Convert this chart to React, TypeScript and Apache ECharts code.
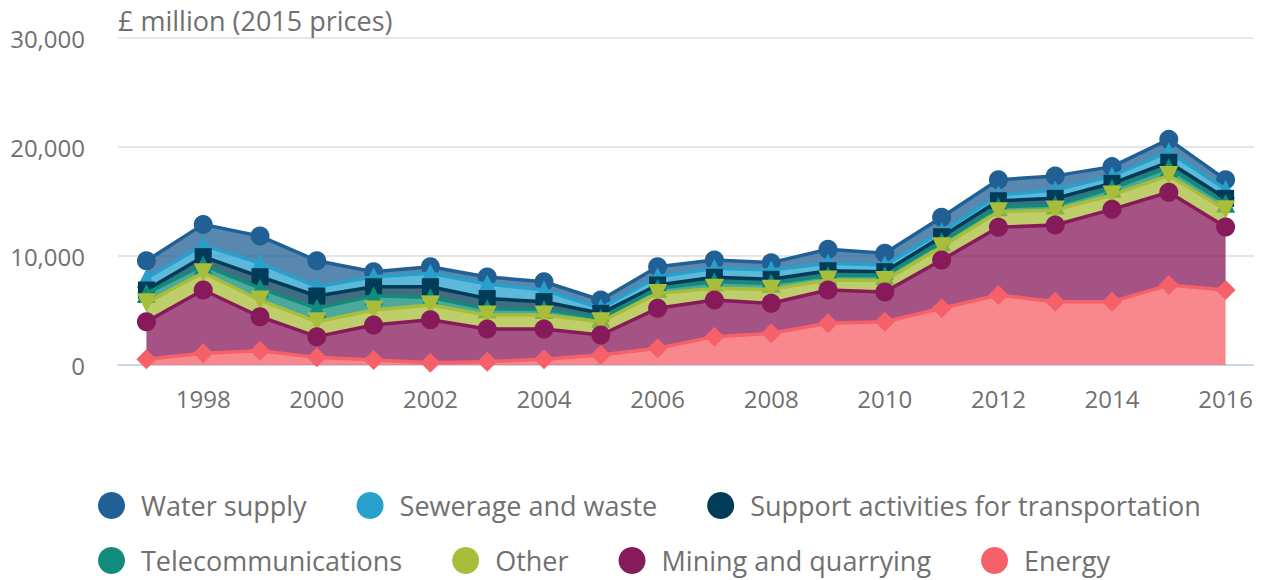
import React, { useEffect, useRef } from "react";
import * as echarts from "echarts";

const years = ["1997","1998","1999","2000","2001","2002","2003","2004","2005","2006","2007","2008","2009","2010","2011","2012","2013","2014","2015","2016"];

const energy = [520,1070,1310,700,460,210,300,520,920,1530,2600,2910,3830,3970,5200,6420,5810,5810,7340,6880];
const mining = [3450,5810,3120,1900,3210,3940,3000,2780,1830,3670,3360,2750,3050,2730,4430,6210,7030,8470,8510,5780];
const other = [1750,1590,1530,1370,1380,1350,1290,1290,1220,1370,1070,1280,920,1050,1220,1430,1380,1320,1530,1590];
const telecom = [850,700,1070,1230,1300,700,560,510,310,460,610,550,400,450,460,460,460,610,720,580];
const transport = [310,770,1070,1130,830,980,950,710,460,310,410,370,450,360,460,550,610,460,500,460];
const sewerage = [1070,1060,1230,850,920,1230,1320,1070,460,760,820,860,680,610,460,530,770,670,970,840];
const water = [1610,1900,2500,2390,460,600,660,760,760,920,760,670,1290,1080,1320,1400,1290,860,1130,870];

const yTicks = [0, 10000, 20000, 30000];
const titleText = "£ million (2015 prices)";

const FONT = "'Open Sans', sans-serif";
const GREY = "#707070";

type S = { name: string; data: number[]; color: string; symbol: string; rotate?: number; size: number };

const seriesDefs: S[] = [
  { name: "Energy", data: energy, color: "#f66068", symbol: "diamond", size: 20 },
  { name: "Mining and quarrying", data: mining, color: "#871a5b", symbol: "circle", size: 19 },
  { name: "Other", data: other, color: "#a8bd3a", symbol: "triangle", rotate: 180, size: 19 },
  { name: "Telecommunications", data: telecom, color: "#118c7b", symbol: "triangle", size: 19 },
  { name: "Support activities for transportation", data: transport, color: "#003c57", symbol: "rect", size: 17 },
  { name: "Sewerage and waste", data: sewerage, color: "#27a0cc", symbol: "triangle", size: 19 },
  { name: "Water supply", data: water, color: "#206095", symbol: "circle", size: 19 },
];

const legendRow1 = ["Water supply", "Sewerage and waste", "Support activities for transportation"];
const legendRow2 = ["Telecommunications", "Other", "Mining and quarrying", "Energy"];

export default function App() {
  const ref = useRef<HTMLDivElement>(null);
  useEffect(() => {
    if (!ref.current) return;
    const chart = echarts.init(ref.current, null, { renderer: "svg" });
    const legendCommon = {
      orient: "horizontal" as const,
      left: 98,
      padding: 0,
      icon: "circle",
      itemWidth: 49,
      itemHeight: 27,
      itemGap: 50,
      selectedMode: false,
      textStyle: { fontSize: 27, color: GREY, fontFamily: FONT },
    };
    chart.setOption({
      animation: false,
      textStyle: { fontFamily: FONT },
      title: {
        text: titleText,
        left: 118,
        top: 7,
        padding: 0,
        textStyle: { fontSize: 27, fontWeight: "normal", color: GREY, fontFamily: FONT },
      },
      grid: { left: 118, right: 8, top: 38, bottom: 215, containLabel: false },
      legend: [
        { ...legendCommon, top: 492, data: legendRow1 },
        { ...legendCommon, top: 547, data: legendRow2 },
      ],
      xAxis: {
        type: "category",
        data: years,
        boundaryGap: true,
        axisLine: { lineStyle: { color: "#ccd6eb", width: 2 } },
        axisTick: {
          alignWithLabel: true,
          length: 20,
          interval: (i: number) => i % 2 === 1,
          lineStyle: { color: "#ccd6eb", width: 2 },
        },
        axisLabel: {
          interval: (i: number) => i % 2 === 1,
          fontSize: 24,
          color: GREY,
          fontFamily: FONT,
          margin: 21,
        },
      },
      yAxis: {
        type: "value",
        min: yTicks[0],
        max: yTicks[yTicks.length - 1],
        interval: yTicks[1] - yTicks[0],
        axisLine: { show: false },
        axisTick: { show: false },
        splitLine: { lineStyle: { color: "#e6e6e6", width: 2 } },
        axisLabel: {
          fontSize: 24,
          color: GREY,
          fontFamily: FONT,
          margin: 33,
          formatter: (v: number) => v.toLocaleString("en-US"),
        },
      },
      series: seriesDefs.map((s, idx) => ({
        name: s.name,
        type: "line",
        stack: "total",
        data: s.data,
        z: 10 - idx,
        symbol: s.symbol,
        symbolSize: s.size,
        symbolRotate: s.rotate ?? 0,
        showAllSymbol: true,
        color: s.color,
        itemStyle: { color: s.color, opacity: 1 },
        lineStyle: { color: s.color, width: 3.5 },
        areaStyle: { color: s.color, opacity: 0.75 },
        emphasis: { disabled: true },
      })),
    });
    return () => chart.dispose();
  }, []);
  return <div ref={ref} style={{ width: 1262, height: 580, marginLeft: -8, marginTop: -8 }} />;
}
